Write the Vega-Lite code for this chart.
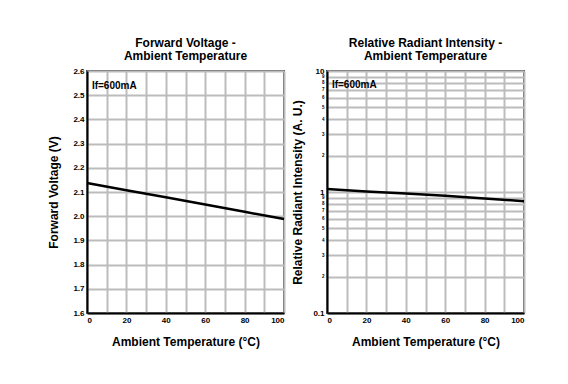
{
  "$schema": "https://vega.github.io/schema/vega-lite/v6.json",
  "background": "white",
  "padding": {"left": 46, "top": 35, "right": 10, "bottom": 10},
  "spacing": 0,
  "config": {
    "font": "Liberation Sans",
    "view": {"stroke": "#505050", "strokeWidth": 2},
    "axis": {
      "gridColor": "#bcbcbc",
      "gridWidth": 2,
      "domainColor": "#000000",
      "domainWidth": 2,
      "ticks": false,
      "labelOverlap": false,
      "labelFont": "Liberation Sans",
      "labelFontWeight": "bold",
      "labelFontSize": 8,
      "labelColor": "#000000",
      "labelPadding": 3,
      "titleFont": "Liberation Sans",
      "titleFontWeight": "bold",
      "titleFontSize": 12,
      "titleColor": "#000000"
    },
    "title": {"font": "Liberation Sans", "fontSize": 12, "fontWeight": "bold", "color": "#000000", "offset": 4, "lineHeight": 13.5}
  },
  "datasets": {
    "vf": [
      {"t": 0, "v": 2.137},
      {"t": 20, "v": 2.107},
      {"t": 40, "v": 2.078},
      {"t": 60, "v": 2.048},
      {"t": 80, "v": 2.018},
      {"t": 100, "v": 1.988}
    ],
    "ri": [
      {"t": 0, "v": 1.06},
      {"t": 20, "v": 1.01},
      {"t": 40, "v": 0.97},
      {"t": 60, "v": 0.93},
      {"t": 80, "v": 0.885},
      {"t": 100, "v": 0.84}
    ],
    "note1": [{"t": 2.5, "v": 2.54, "label": "If=600mA"}],
    "note2": [{"t": 2.5, "v": 7.6, "label": "If=600mA"}]
  },
  "hconcat": [
    {
      "width": 197,
      "height": 242,
      "title": {"text": ["Forward Voltage -", "Ambient Temperature"]},
      "layer": [
        {
          "data": {"name": "vf"},
          "mark": {"type": "line", "color": "#000000", "strokeWidth": 2.5},
          "encoding": {
            "x": {"field": "t", "type": "quantitative", "scale": {"domain": [0, 100], "nice": false},
              "axis": {"title": "Ambient Temperature (°C)", "tickCount": 40, "values": [0,10,20,30,40,50,60,70,80,90,100], "labelExpr": "datum.value % 20 == 0 ? datum.label : ''", "titlePadding": 12}},
            "y": {"field": "v", "type": "quantitative", "scale": {"domain": [1.6, 2.6], "nice": false, "zero": false},
              "axis": {"title": "Forward Voltage (V)", "tickCount": 40, "values": [1.6,1.7,1.8,1.9,2.0,2.1,2.2,2.3,2.4,2.5,2.6], "format": ".1f", "titlePadding": 12}}
          }
        },
        {
          "data": {"name": "note1"},
          "mark": {"type": "text", "align": "left", "baseline": "middle", "fontWeight": "bold", "fontSize": 10, "font": "Liberation Sans", "color": "#000000"},
          "encoding": {
            "x": {"field": "t", "type": "quantitative"},
            "y": {"field": "v", "type": "quantitative"},
            "text": {"field": "label"}
          }
        }
      ]
    },
    {
      "width": 197,
      "height": 242,
      "title": {"text": ["Relative Radiant Intensity -", "Ambient Temperature"]},
      "layer": [
        {
          "data": {"name": "ri"},
          "mark": {"type": "line", "color": "#000000", "strokeWidth": 2.5},
          "encoding": {
            "x": {"field": "t", "type": "quantitative", "scale": {"domain": [0, 100], "nice": false},
              "axis": {"title": "Ambient Temperature (°C)", "tickCount": 40, "values": [0,10,20,30,40,50,60,70,80,90,100], "labelExpr": "datum.value % 20 == 0 ? datum.label : ''", "titlePadding": 12}},
            "y": {"field": "v", "type": "quantitative", "scale": {"type": "log", "domain": [0.1, 10], "nice": false},
              "axis": {"title": "Relative Radiant Intensity (A. U.)", "tickCount": 40,
                "values": [0.1,0.2,0.3,0.4,0.5,0.6,0.7,0.8,0.9,1,2,3,4,5,6,7,8,9,10],
                "labelExpr": "datum.value == 0.1 ? '0.1' : (datum.value < 1 ? '' + round(datum.value * 10) : '' + round(datum.value))",
                "labelFontSize": {"condition": {"test": "datum.value == 0.1 || datum.value == 1 || datum.value == 10", "value": 8}, "value": 4.5},
                "titlePadding": 8}}
          }
        },
        {
          "data": {"name": "note2"},
          "mark": {"type": "text", "align": "left", "baseline": "middle", "fontWeight": "bold", "fontSize": 10, "font": "Liberation Sans", "color": "#000000"},
          "encoding": {
            "x": {"field": "t", "type": "quantitative"},
            "y": {"field": "v", "type": "quantitative", "scale": {"type": "log"}},
            "text": {"field": "label"}
          }
        }
      ]
    }
  ]
}
